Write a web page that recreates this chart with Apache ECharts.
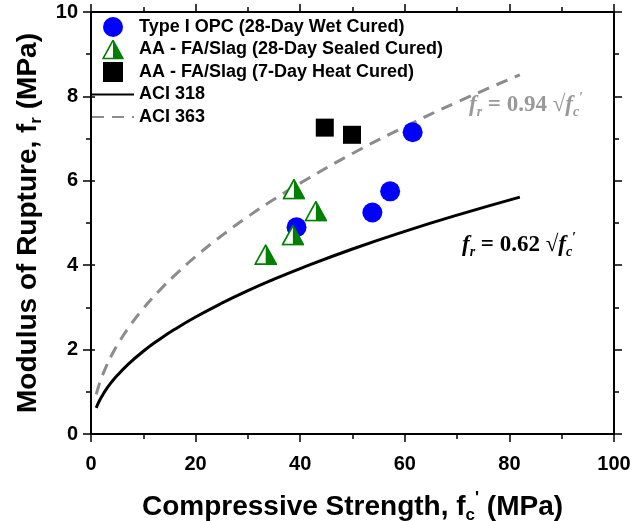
<!DOCTYPE html>
<html>
<head>
<meta charset="utf-8">
<script src="https://cdn.jsdelivr.net/npm/echarts@6/dist/echarts.min.js"></script>
<style>
  html, body { margin: 0; padding: 0; background: #fff; }
  #chart { width: 633px; height: 521px; }
</style>
</head>
<body>
<div id="chart"></div>
<script>
// measured points
const opcX = [39.3, 53.8, 57.2, 61.5]
const opcY = [4.9, 5.25, 5.75, 7.15]
const sealX = [33.4, 38.6, 38.8, 43.0]
const sealY = [4.25, 4.71, 5.8, 5.28]
const heatX = [44.7, 49.9]
const heatY = [7.26, 7.09]

// code curves
const curveX = [1, 1.5, 2, 3, 4, 5, 7, 10, 13, 16, 20, 25, 30, 35, 40, 50, 60, 70, 82]
const aci318Y = [0.62, 0.759, 0.877, 1.074, 1.24, 1.386, 1.64, 1.961, 2.235, 2.48, 2.773, 3.1, 3.396, 3.668, 3.921, 4.384, 4.803, 5.187, 5.614]
const aci363Y = [0.94, 1.151, 1.329, 1.628, 1.88, 2.102, 2.487, 2.973, 3.389, 3.76, 4.204, 4.7, 5.149, 5.561, 5.945, 6.647, 7.281, 7.865, 8.512]

const xTicks = [0, 20, 40, 60, 80, 100]
const yTicks = [0, 2, 4, 6, 8, 10]

const names = [
  'Type I OPC (28-Day Wet Cured)',
  'AA - FA/Slag (28-Day Sealed Cured)',
  'AA - FA/Slag (7-Day Heat Cured)',
  'ACI 318',
  'ACI 363'
]

const zip = (xs, ys) => xs.map((x, i) => [x, ys[i]])

const green = '#008000'
const gray = '#8c8c8c'
const triSvg = '<svg xmlns="http://www.w3.org/2000/svg" width="46" height="42" viewBox="0 0 46 42">' +
  '<polygon points="23,2 44,40 2,40" fill="#ffffff"/>' +
  '<polygon points="23,2 44,40 23,40" fill="' + green + '"/>' +
  '<polygon points="23,2 44,40 2,40" fill="none" stroke="' + green + '" stroke-width="3.5"/>' +
  '</svg>'
const triSymbol = 'image://data:image/svg+xml;charset=utf-8,' + encodeURIComponent(triSvg)
const squareSymbol = 'path://M0,0L10,0L10,10L0,10Z'

const font = 'Liberation Sans, Arial, sans-serif'
const serif = 'Liberation Serif, Times New Roman, serif'

const axisBase = {
  type: 'value',
  axisLine: { show: true, onZero: false, lineStyle: { color: '#000', width: 2 } },
  axisTick: { show: true, inside: false, length: 8, lineStyle: { color: '#000', width: 1.5 } },
  minorTick: { show: true, splitNumber: 2, length: 5, lineStyle: { color: '#000', width: 1.5 } },
  splitLine: { show: false },
  minorSplitLine: { show: false }
}
const labelStyle = { fontFamily: font, fontWeight: 'bold', fontSize: 20, color: '#000' }
const nameRich = {
  t: { fontFamily: font, fontWeight: 'bold', fontSize: 28, color: '#000', lineHeight: 34 },
  sub: { fontFamily: font, fontWeight: 'bold', fontSize: 17, color: '#000', lineHeight: 14, verticalAlign: 'bottom' },
  sup: { fontFamily: font, fontWeight: 'bold', fontSize: 17, color: '#000', lineHeight: 14, verticalAlign: 'top' }
}

function formulaRich (color) {
  return {
    i: { fontFamily: serif, fontStyle: 'italic', fontWeight: 'bold', fontSize: 23, fill: color, lineHeight: 28 },
    n: { fontFamily: serif, fontWeight: 'bold', fontSize: 23, fill: color, lineHeight: 28 },
    sub: { fontFamily: serif, fontStyle: 'italic', fontWeight: 'bold', fontSize: 14, fill: color, lineHeight: 10, verticalAlign: 'bottom' },
    sup: { fontFamily: serif, fontWeight: 'bold', fontSize: 14, fill: color, lineHeight: 10, verticalAlign: 'top' }
  }
}

const chart = echarts.init(document.getElementById('chart'))
chart.setOption({
  animation: false,
  backgroundColor: '#fff',
  grid: { left: 91, right: 19, top: 12, bottom: 87, containLabel: false, outerBoundsMode: 'none' },
  legend: {
    orient: 'vertical',
    left: 91,
    top: 17,
    itemWidth: 42,
    itemHeight: 20,
    itemGap: 2.5,
    padding: 0,
    data: names,
    textStyle: { fontFamily: font, fontWeight: 'bold', fontSize: 18, lineHeight: 20, color: '#000' }
  },
  xAxis: [
    Object.assign({}, axisBase, {
      position: 'bottom',
      min: xTicks[0], max: xTicks[xTicks.length - 1], interval: 20,
      axisLabel: Object.assign({ margin: 20 }, labelStyle),
      name: '{t|Compressive Strength, f}{sub|c}{sup|\'}{t| (MPa)}',
      nameLocation: 'middle',
      nameGap: 56,
      nameTextStyle: { rich: nameRich }
    }),
    Object.assign({}, axisBase, {
      position: 'top',
      min: xTicks[0], max: xTicks[xTicks.length - 1], interval: 20,
      axisLabel: { show: false }
    })
  ],
  yAxis: [
    Object.assign({}, axisBase, {
      position: 'left',
      min: yTicks[0], max: yTicks[yTicks.length - 1], interval: 2,
      axisLabel: Object.assign({ margin: 13, padding: [8, 0, 0, 0] }, labelStyle),
      name: '{t|Modulus of Rupture, f}{sub|r}{t| (MPa)}',
      nameLocation: 'middle',
      nameGap: 45,
      nameTextStyle: { rich: nameRich }
    }),
    Object.assign({}, axisBase, {
      position: 'right',
      min: yTicks[0], max: yTicks[yTicks.length - 1], interval: 2,
      axisLabel: { show: false }
    }),
    {
      // short inner half of the left major ticks
      type: 'value',
      position: 'left',
      min: yTicks[0], max: yTicks[yTicks.length - 1], interval: 2,
      axisLine: { show: false },
      axisTick: { show: true, inside: true, length: 4, lineStyle: { color: '#000', width: 1.5 } },
      axisLabel: { show: false },
      splitLine: { show: false }
    }
  ],
  series: [
    {
      name: names[3],
      type: 'line',
      data: zip(curveX, aci318Y),
      smooth: true,
      symbol: 'none',
      lineStyle: { color: '#000', width: 3 },
      itemStyle: { color: '#000', opacity: 0 },
      z: 1
    },
    {
      name: names[4],
      type: 'line',
      data: zip(curveX, aci363Y),
      smooth: true,
      symbol: 'none',
      lineStyle: { color: gray, width: 3, type: [12, 8] },
      itemStyle: { color: gray, opacity: 0 },
      z: 1
    },
    {
      name: names[0],
      type: 'scatter',
      data: zip(opcX, opcY),
      symbol: 'circle',
      symbolSize: 20,
      itemStyle: { color: '#0000ff', opacity: 1 },
      z: 3
    },
    {
      name: names[1],
      type: 'scatter',
      data: zip(sealX, sealY),
      symbol: triSymbol,
      symbolSize: [23, 21],
      itemStyle: { color: green, opacity: 1 },
      z: 4
    },
    {
      name: names[2],
      type: 'scatter',
      data: zip(heatX, heatY),
      symbol: squareSymbol,
      symbolSize: 18,
      itemStyle: { color: '#000', opacity: 1 },
      z: 3
    }
  ],
  graphic: [
    {
      type: 'text',
      left: 469,
      top: 91,
      style: {
        text: '{i|f}{sub|r}{n| = 0.94 \u221A}{i|f}{sub|c}{sup|\u2032}',
        rich: formulaRich('#999')
      }
    },
    {
      type: 'text',
      left: 462,
      top: 231,
      style: {
        text: '{i|f}{sub|r}{n| = 0.62 \u221A}{i|f}{sub|c}{sup|\u2032}',
        rich: formulaRich('#000')
      }
    }
  ]
})
</script>
</body>
</html>
